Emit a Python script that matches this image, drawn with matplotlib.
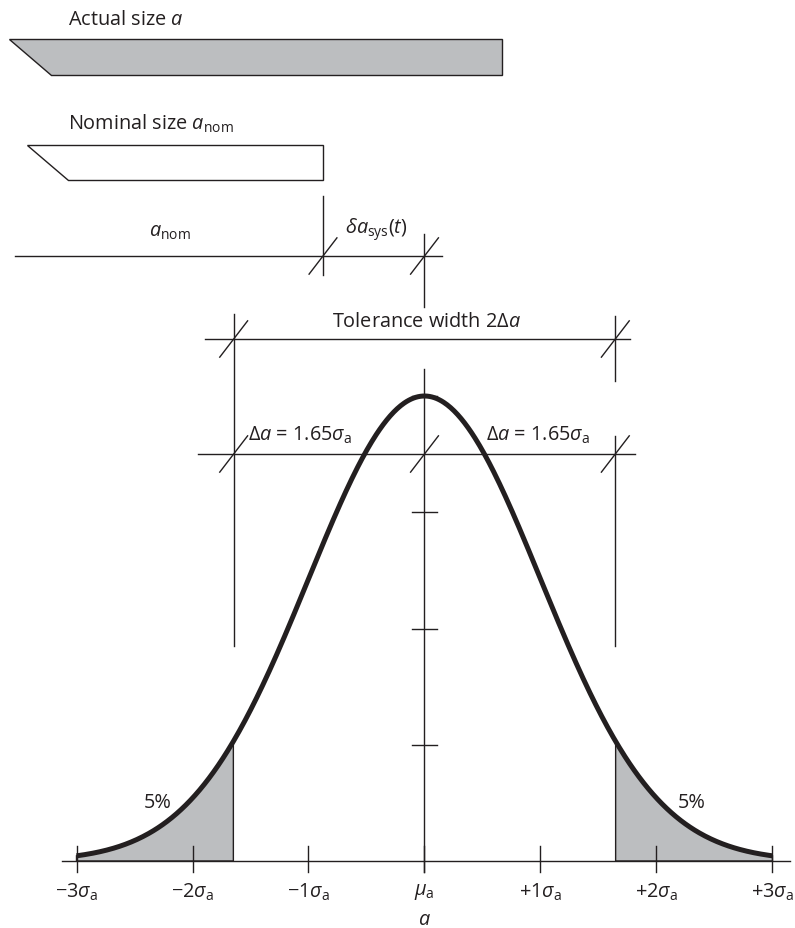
import numpy as np
import matplotlib
matplotlib.use('Agg')
import matplotlib.pyplot as plt
from matplotlib.patches import Polygon

plt.rcParams['font.family'] = ['Open Sans', 'DejaVu Sans']
plt.rcParams['mathtext.fontset'] = 'custom'
plt.rcParams['mathtext.rm'] = 'Open Sans'
plt.rcParams['mathtext.it'] = 'Open Sans:italic'
plt.rcParams['mathtext.bf'] = 'Open Sans:bold'

# data (x in units of sigma, y relative to the peak density)
sigma_ticks = [-3, -2, -1, 0, 1, 2, 3]
sigma_labels = [r'$-3\sigma_{\mathrm{a}}$', r'$-2\sigma_{\mathrm{a}}$', r'$-1\sigma_{\mathrm{a}}$',
                r'$\mu_{\mathrm{a}}$', r'$+1\sigma_{\mathrm{a}}$', r'$+2\sigma_{\mathrm{a}}$',
                r'$+3\sigma_{\mathrm{a}}$']
density_ticks = [0.25, 0.5, 0.75, 1.0]
z_tol = 1.645          # quantile for 5 % tails
tail_labels = ['5%', '5%']
mu = 0.0
sigma = 1.0

# schematic: nominal size end and actual size end (sigma units)
nominal_end = -0.875
actual_end = 0.668

ink = '#231f20'
grey = '#bcbec0'
lw = 1.0
fs = 14.3

fig = plt.figure(figsize=(7.95, 9.29), dpi=100)
ax = fig.add_axes([0, 0, 1, 1])
ax.set_xlim(-3.6595, 3.194)
ax.set_ylim(-0.1441, 1.8538)
ax.axis('off')

def slash(x, y, dx=0.12, dy=0.039):
    ax.plot([x - dx, x + dx], [y - dy, y + dy], color=ink, lw=lw)

# normal curve
xs = np.linspace(-3, 3, 600)
pdf = np.exp(-0.5 * ((xs - mu) / sigma) ** 2)

# shaded 5% tails
for m in (xs <= mu - z_tol * sigma, xs >= mu + z_tol * sigma):
    xt = xs[m]
    yt = pdf[m]
    pts = np.vstack([[xt[0], 0], np.column_stack([xt, yt]), [xt[-1], 0]])
    ax.add_patch(Polygon(pts, closed=True, facecolor=grey, edgecolor=ink, lw=lw, zorder=2))

ax.plot(xs, pdf, color=ink, lw=3.6, solid_capstyle='butt', zorder=4)

# baseline and x ticks
ax.plot([-3.125, 3.151], [0, 0], color=ink, lw=lw, zorder=3)
for t, lab in zip(sigma_ticks, sigma_labels):
    ax.plot([t, t], [0.0323, -0.0237], color=ink, lw=lw, zorder=3)
    ax.text(t, -0.0645, lab, ha='center', va='center', fontsize=fs, color=ink)
ax.text(0, -0.124, '$a$', ha='center', va='center', fontsize=fs, color=ink)

# central axis with density ticks
ax.plot([mu, mu], [-0.0237, 1.058], color=ink, lw=lw, zorder=3)
for d in density_ticks:
    ax.plot([mu - 0.108, mu + 0.108], [d, d], color=ink, lw=lw, zorder=3)

# tail labels
ax.text(-2.3, 0.127, tail_labels[0], ha='center', va='center', fontsize=fs, color=ink)
ax.text(2.3, 0.127, tail_labels[1], ha='center', va='center', fontsize=fs, color=ink)

# tolerance limits
y_tol = 1.1226
y_da = 0.8753
ax.plot([-z_tol, -z_tol], [0.4624, 1.1763], color=ink, lw=lw)
ax.plot([z_tol, z_tol], [1.032, 1.172], color=ink, lw=lw)
ax.plot([z_tol, z_tol], [0.4624, 0.914], color=ink, lw=lw)
ax.plot([-1.892, 1.772], [y_tol, y_tol], color=ink, lw=lw)
ax.plot([-1.953, 1.815], [y_da, y_da], color=ink, lw=lw)
for x in (-z_tol, z_tol):
    slash(x, y_tol)
for x in (-z_tol, mu, z_tol):
    slash(x, y_da)
ax.text(0.02, 1.161, r'Tolerance width 2$\Delta a$', ha='center', va='center',
        fontsize=fs, color=ink)
ax.text(-1.522, 0.918, r'$\Delta a$ = 1.65$\sigma_{\mathrm{a}}$', ha='left', va='center',
        fontsize=fs, color=ink)
ax.text(0.530, 0.918, r'$\Delta a$ = 1.65$\sigma_{\mathrm{a}}$', ha='left', va='center',
        fontsize=fs, color=ink)

# systematic deviation dimension
y_dim = 1.3011
ax.plot([-3.530, 0.151], [y_dim, y_dim], color=ink, lw=lw)
ax.plot([nominal_end, nominal_end], [1.260, 1.430], color=ink, lw=lw)
ax.plot([mu, mu], [1.1914, 1.3484], color=ink, lw=lw)
slash(nominal_end, y_dim)
slash(mu, y_dim)
ax.text(-2.194, 1.355, r'$a_{\mathrm{nom}}$', ha='center', va='center', fontsize=fs, color=ink)
ax.text(-0.685, 1.359, r'$\delta a_{\mathrm{sys}}(t)$', ha='left', va='center',
        fontsize=fs, color=ink)

# nominal size bar
nom = [[-3.427, 1.5398], [nominal_end, 1.5398], [nominal_end, 1.4645], [-3.073, 1.4645]]
ax.add_patch(Polygon(nom, closed=True, facecolor='white', edgecolor=ink, lw=lw))
ax.text(-3.073, 1.587, r'Nominal size $a_{\mathrm{nom}}$', ha='left', va='center',
        fontsize=fs, color=ink)

# actual size bar
act = [[-3.582, 1.7677], [actual_end, 1.7677], [actual_end, 1.6903], [-3.220, 1.6903]]
ax.add_patch(Polygon(act, closed=True, facecolor=grey, edgecolor=ink, lw=lw))
ax.text(-3.073, 1.8108, 'Actual size $a$', ha='left', va='center', fontsize=fs, color=ink)

fig.savefig('out.png', dpi=100)
